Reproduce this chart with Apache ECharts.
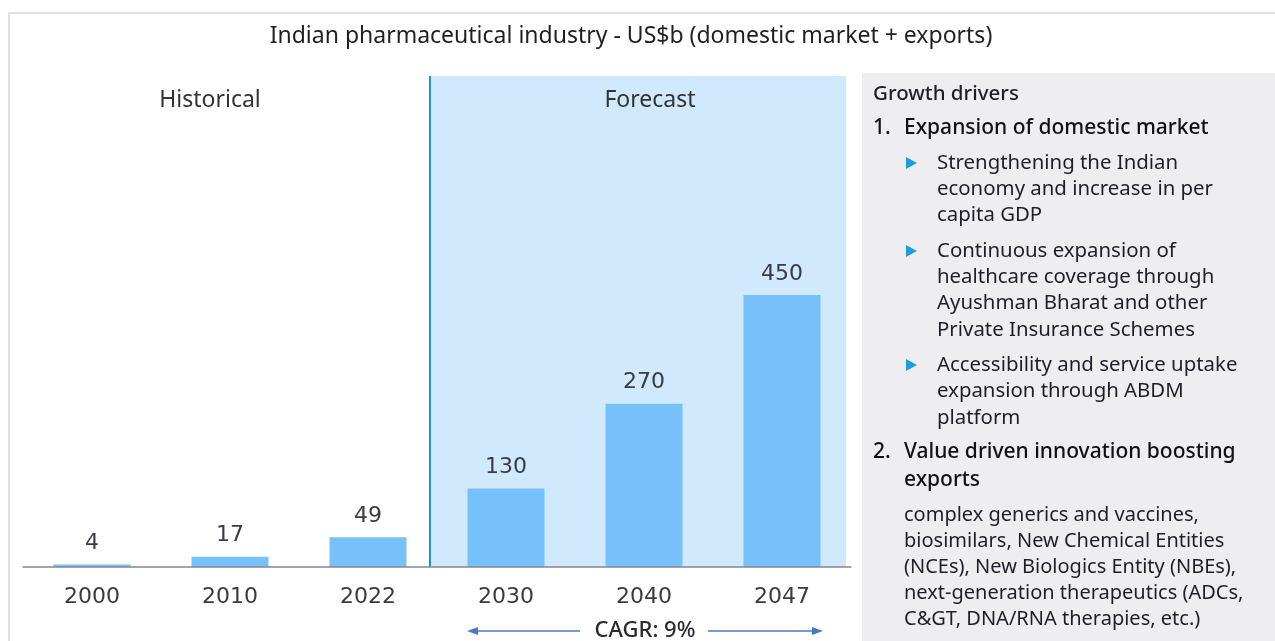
<!DOCTYPE html>
<html>
<head>
<meta charset="utf-8">
<title>Indian pharmaceutical industry</title>
<script src="https://cdn.jsdelivr.net/npm/echarts@6/dist/echarts.min.js"></script>
<style>
  html, body { margin: 0; padding: 0; background: #fff; }
  #main { width: 1275px; height: 641px; }
</style>
</head>
<body>
<div id="main"></div>
<script>
// 数据
var years = ['2000', '2010', '2022', '2030', '2040', '2047'];
var marketSize = [4, 17, 49, 130, 270, 450];

var titleText = 'Indian pharmaceutical industry - US$b (domestic market + exports)';
var periodLabels = ['Historical', 'Forecast'];
var cagrText = 'CAGR: 9%';

// 右侧说明文字 (每行一个)
var driversHead = 'Growth drivers';
var driver1 = ['1.', 'Expansion of domestic market'];
var bullets1 = [
    ['Strengthening the Indian', 'economy and increase in per', 'capita GDP'],
    ['Continuous expansion of', 'healthcare coverage through', 'Ayushman Bharat and other', 'Private Insurance Schemes'],
    ['Accessibility and service uptake', 'expansion through ABDM', 'platform']
];
var driver2 = ['2.', 'Value driven innovation boosting', 'exports'];
var driver2Body = ['complex generics and vaccines,', 'biosimilars, New Chemical Entities',
    '(NCEs), New Biologics Entity (NBEs),', 'next-generation therapeutics (ADCs,', 'C&GT, DNA/RNA therapies, etc.)'];

var textFont = '"Noto Sans", sans-serif';
var numFont = '"DejaVu Sans", sans-serif';
var dark = '#1e1e28';

function txt(x, y, s, opt) {
    opt = opt || {};
    return {
        type: 'text', x: x, y: y, silent: true, z: 5,
        style: {
            text: s,
            fill: opt.color || dark,
            font: (opt.weight || 'normal') + ' ' + (opt.size || 20) + 'px ' + (opt.family || textFont),
            textAlign: opt.align || 'left',
            textVerticalAlign: 'middle'
        }
    };
}

// 右侧面板
var panel = [];
panel.push({ type: 'rect', shape: { x: 862, y: 73, width: 420, height: 580 }, style: { fill: '#eeeef1' }, z: 1 });
panel.push(txt(873, 94, driversHead, { weight: 500, size: 20.5 }));
panel.push(txt(873, 128, driver1[0], { weight: 500, size: 21, color: '#111' }));
panel.push(txt(904, 128, driver1[1], { weight: 500, size: 21, color: '#111' }));
var y = 163;
for (var i = 0; i < bullets1.length; i++) {
    panel.push({
        type: 'polygon', z: 5, silent: true,
        shape: { points: [[906, y - 6], [906, y + 6], [917, y]] },
        style: { fill: '#1f9be0' }
    });
    for (var j = 0; j < bullets1[i].length; j++) {
        panel.push(txt(937, y, bullets1[i][j], { size: 20.4 }));
        y += 26.3;
    }
    y += 9;
}
y = 452;
panel.push(txt(873, y, driver2[0], { weight: 500, size: 21, color: '#111' }));
panel.push(txt(904, y, driver2[1], { weight: 500, size: 21, color: '#111' }));
panel.push(txt(904, y + 28, driver2[2], { weight: 500, size: 21, color: '#111' }));
y = 515;
for (var k = 0; k < driver2Body.length; k++) {
    panel.push(txt(904, y, driver2Body[k]));
    y += 26;
}

var decorations = [
    { type: 'rect', shape: { x: 9, y: 13, width: 1280, height: 640 }, style: { fill: 'none', stroke: '#dfe0e5', lineWidth: 2 }, z: -2 },
    { type: 'rect', shape: { x: 430, y: 76, width: 416, height: 491 }, style: { fill: '#d0e9fc' }, z: -1 },
    { type: 'line', shape: { x1: 430, y1: 76, x2: 430, y2: 567 }, style: { stroke: '#1c92d2', lineWidth: 2 }, z: 3 },
    txt(631, 36, titleText, { size: 23, align: 'center' }),
    txt(210, 100, periodLabels[0], { size: 23, align: 'center', color: '#333' }),
    txt(650, 100, periodLabels[1], { size: 23, align: 'center', color: '#333' }),
    // CAGR 箭头
    { type: 'line', shape: { x1: 474, y1: 631, x2: 580, y2: 631 }, style: { stroke: '#4a78c8', lineWidth: 1.5 } },
    { type: 'polygon', shape: { points: [[467, 631], [478, 627], [478, 635]] }, style: { fill: '#4a78c8' } },
    { type: 'line', shape: { x1: 708, y1: 631, x2: 816, y2: 631 }, style: { stroke: '#4a78c8', lineWidth: 1.5 } },
    { type: 'polygon', shape: { points: [[823, 631], [812, 627], [812, 635]] }, style: { fill: '#4a78c8' } },
    txt(645, 631, cagrText, { size: 22, weight: 500, align: 'center', color: '#2a2a34' })
];

var barOption = {
    animation: false,
    grid: {
        left: 23,
        right: 424,
        top: 76,
        bottom: 74
    },
    xAxis: [
        {
            type: 'category',
            data: years,
            axisLine: { lineStyle: { color: '#858690', width: 1.5 } },
            axisTick: { show: false },
            axisLabel: {
                margin: 19,
                fontSize: 22,
                fontFamily: numFont,
                color: '#3a3a44'
            },
            z: 4
        }
    ],
    yAxis: [
        {
            type: 'value',
            min: 0,
            max: 812,
            show: false,
            splitLine: { show: false }
        }
    ],
    series: [
        {
            name: 'US$b',
            type: 'bar',
            data: marketSize,
            barWidth: 77,
            itemStyle: { color: '#77c1fb' },
            label: {
                show: true,
                position: 'top',
                distance: 10,
                fontSize: 22,
                fontFamily: numFont,
                color: '#3a3a44'
            }
        }
    ],
    graphic: decorations.concat(panel)
};

var domMain = document.getElementById('main');
var chart = echarts.init(domMain, null, { renderer: 'canvas' });
chart.setOption(barOption, false);
</script>
</body>
</html>
